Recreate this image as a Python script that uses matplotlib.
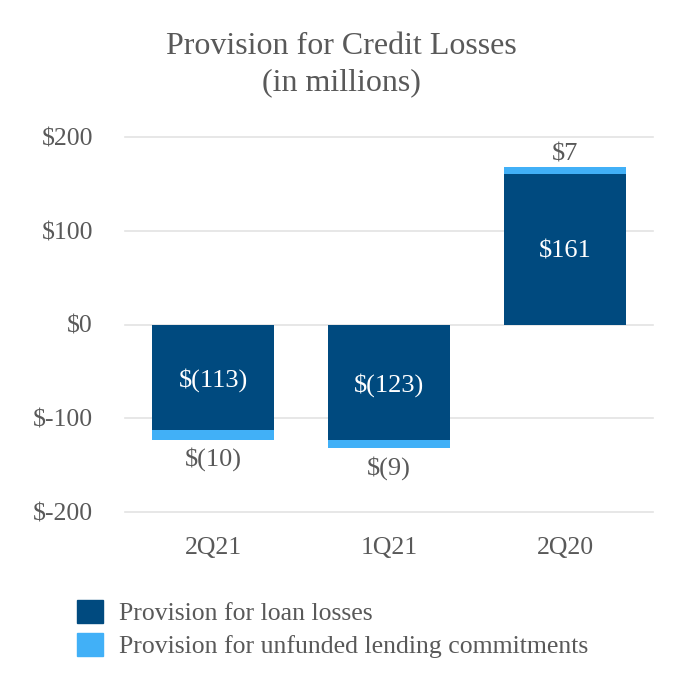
import matplotlib
matplotlib.use("Agg")
import matplotlib.pyplot as plt
import numpy as np
from matplotlib.patches import Patch

categories = ["2Q21", "1Q21", "2Q20"]
loan_losses = [-113, -123, 161]
unfunded = [-10, -9, 7]
loan_labels = ["$(113)", "$(123)", "$161"]
unfunded_labels = ["$(10)", "$(9)", "$7"]
series_names = ["Provision for loan losses", "Provision for unfunded lending commitments"]
yticks = [-200, -100, 0, 100, 200]
ytick_labels = ["$-200", "$-100", "$0", "$100", "$200"]

dark = "#004a7f"
light = "#41b0f7"
gray = "#595959"

plt.rcParams['font.family'] = ['Liberation Serif', 'DejaVu Serif']

fig = plt.figure(figsize=(6.82, 7.0), dpi=100)
ax = fig.add_axes([125/682, 1-512/700, 528/682, 375/700])

x = np.arange(len(categories))
w = 0.69
ax.bar(x, loan_losses, width=w, color=dark, zorder=3)
ax.bar(x, unfunded, width=w, bottom=loan_losses, color=light, zorder=3)

for i in range(len(categories)):
    ax.text(x[i], loan_losses[i] / 2, loan_labels[i], ha='center', va='center_baseline',
            color='white', fontsize=19, zorder=4)
    top = loan_losses[i] + unfunded[i]
    if top < 0:
        ax.text(x[i], top - 8, unfunded_labels[i], ha='center', va='top',
                color=gray, fontsize=19)
    else:
        ax.text(x[i], top + 2, unfunded_labels[i], ha='center', va='bottom',
                color=gray, fontsize=19)

ax.set_xlim(-0.5, 2.5)
ax.set_ylim(-200, 200)
ax.set_yticks(yticks)
ax.set_yticklabels(ytick_labels)
ax.set_xticks(x)
ax.set_xticklabels(categories)
ax.tick_params(axis='both', length=0, labelsize=18.5, labelcolor=gray)
ax.tick_params(axis='y', pad=23)
ax.tick_params(axis='x', pad=18)
for s in ax.spines.values():
    s.set_visible(False)
ax.yaxis.grid(True, color="#e3e3e3", linewidth=1.2, zorder=0)
for gl in ax.get_ygridlines():
    gl.set_clip_on(False)
ax.set_axisbelow(True)

fig.text(0.5, 1-46/700, "Provision for Credit Losses", ha='center', va='center',
         fontsize=23, color=gray)
fig.text(0.5, 1-83/700, "(in millions)", ha='center', va='center',
         fontsize=23, color=gray)

handles = [Patch(color=dark), Patch(color=light)]
fig.legend(handles, series_names, loc='upper left', bbox_to_anchor=(64/682, 1-587/700),
           frameon=False, fontsize=18.5, labelcolor=gray, handlelength=1.0,
           handleheight=1.0, handletextpad=0.65, labelspacing=0.3, borderpad=0)

fig.savefig("out.png", dpi=100, facecolor='white')
